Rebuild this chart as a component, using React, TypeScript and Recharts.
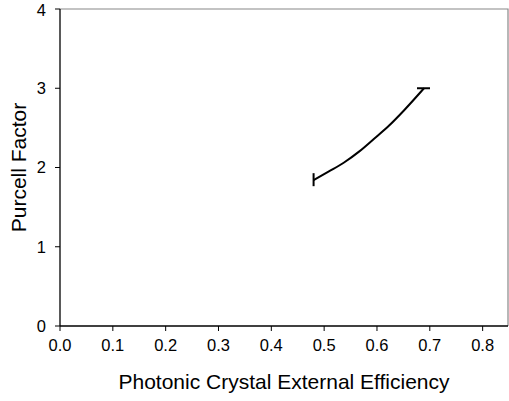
import React from 'react';
import * as R from 'recharts';
import { ComposedChart, Line, XAxis, YAxis } from 'recharts';

const efficiency = [0.48, 0.509, 0.537, 0.566, 0.594, 0.623, 0.651, 0.689];
const purcell = [1.84, 1.95, 2.06, 2.2, 2.36, 2.53, 2.72, 3.0];
const xTicks = [0, 0.1, 0.2, 0.3, 0.4, 0.5, 0.6, 0.7, 0.8];
const yTicks = [0, 1, 2, 3, 4];
const xMax = 0.848;
const yMax = 4;

const data = efficiency.map((x, i) => ({ x, y: purcell[i] }));
const FONT = '"Liberation Sans", Arial, sans-serif';

const usePlot: any = (R as any).usePlotArea || (R as any).useOffset || null;

const Frame = () => {
  if (!usePlot) return null;
  const a = usePlot();
  if (!a) return null;
  const x = a.x != null ? a.x : a.left;
  const y = a.y != null ? a.y : a.top;
  const w = a.width;
  const h = a.height;
  if (x == null || y == null || w == null || h == null) return null;
  return (
    <path d={`M${x},${y}H${x + w}V${y + h}`} fill="none" stroke="#888" strokeWidth={1.2} />
  );
};

const EndCap = (props: any) => {
  const { cx, cy, index } = props;
  if (index === 0) {
    return <line key={`c${index}`} x1={cx} y1={cy - 7} x2={cx} y2={cy + 6} stroke="#000" strokeWidth={2} />;
  }
  if (index === data.length - 1) {
    return <line key={`c${index}`} x1={cx - 7} y1={cy} x2={cx + 6} y2={cy} stroke="#000" strokeWidth={2} />;
  }
  return <g key={`c${index}`} />;
};

const YLabel = (props: any) => {
  const vb = props.viewBox || {};
  const cy = vb.y + vb.height / 2;
  const cx = 20;
  return (
    <text x={cx} y={cy} transform={`rotate(-90 ${cx} ${cy})`} textAnchor="middle" dominantBaseline="middle" fontFamily={FONT} fontSize={21} fill="#000">
      Purcell Factor
    </text>
  );
};

export default function App() {
  return (
    <div style={{ position: 'absolute', left: 0, top: 0, background: '#fff' }}>
      <ComposedChart width={509} height={401} data={data} margin={{ top: 9, right: 1, bottom: 0, left: 0 }}>
        <XAxis
          type="number"
          dataKey="x"
          domain={[0, xMax]}
          ticks={xTicks}
          tickFormatter={(v: number) => v.toFixed(1)}
          tick={{ fill: '#000', fontSize: 16.5, fontFamily: FONT }}
          tickLine={{ stroke: '#000' }}
          tickSize={5}
          tickMargin={8}
          axisLine={{ stroke: '#000', strokeWidth: 1.3 }}
          height={75}
          label={{ value: 'Photonic Crystal External Efficiency', position: 'insideBottom', offset: 12, fill: '#000', fontSize: 21, fontFamily: FONT }}
        />
        <YAxis
          type="number"
          domain={[0, yMax]}
          ticks={yTicks}
          tick={{ fill: '#000', fontSize: 16.5, fontFamily: FONT }}
          tickLine={{ stroke: '#000' }}
          tickSize={5}
          tickMargin={9}
          axisLine={{ stroke: '#000', strokeWidth: 1.3 }}
          width={60}
          label={{ content: YLabel }}
        />
        <Frame />
        <Line
          dataKey="y"
          type="monotone"
          stroke="#000"
          strokeWidth={2}
          dot={EndCap}
          activeDot={false}
          isAnimationActive={false}
        />
      </ComposedChart>
    </div>
  );
}
